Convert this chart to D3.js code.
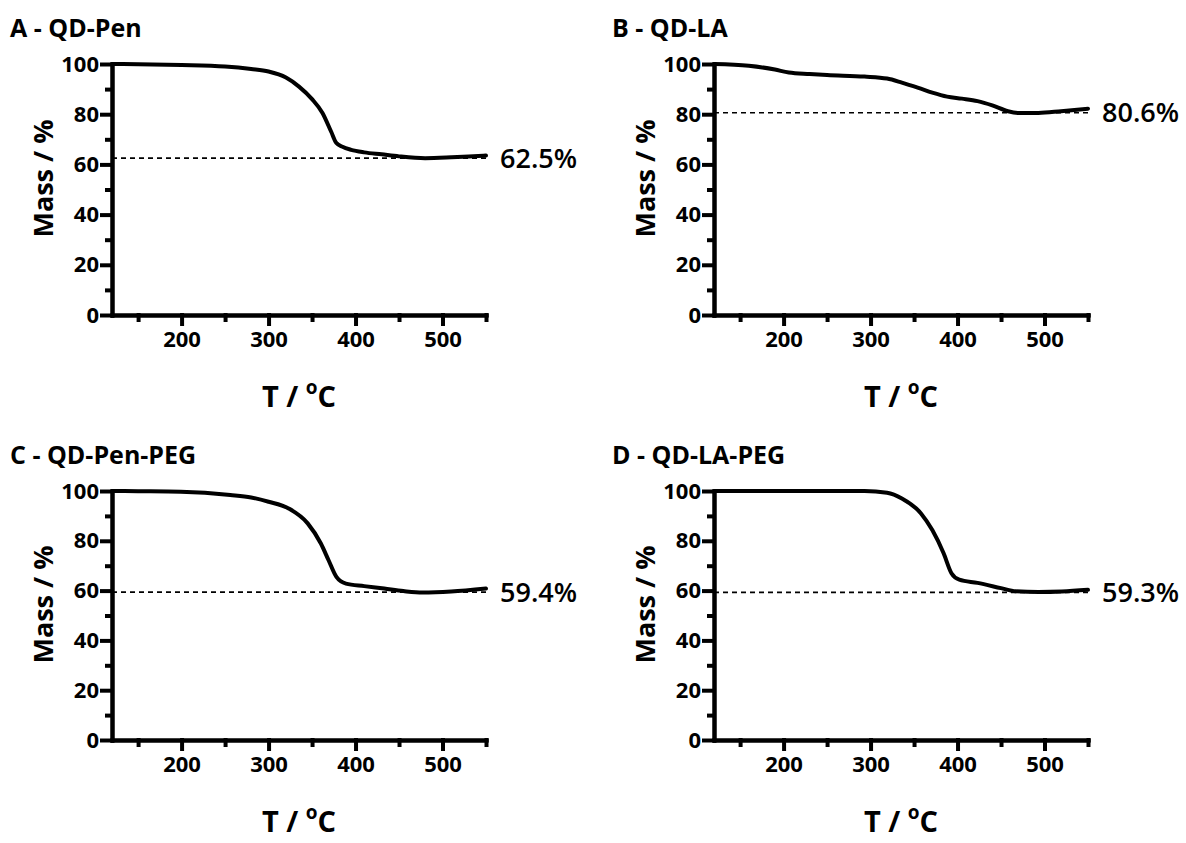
<!DOCTYPE html>
<html>
<head>
<meta charset="utf-8">
<script src="https://cdn.jsdelivr.net/npm/d3@7"></script>
<style>
  body { margin: 0; background: #fff; }
  text { font-family: 'Open Sans', Lato, sans-serif; font-weight: bold; fill: #000; }
</style>
</head>
<body>
<svg id="canvas"></svg>
<script>
const panelTitles = ['A - QD-Pen', 'B - QD-LA', 'C - QD-Pen-PEG', 'D - QD-LA-PEG'];
const residues = [62.5, 80.6, 59.4, 59.3];

// temperature (°C) and mass (%)
const tempA = [120, 150, 200, 250, 280, 300, 320, 335, 350, 362, 372, 378, 385, 395, 410, 430, 450, 480, 510, 530, 550];
const massA = [100, 99.9, 99.6, 99.0, 98.0, 97.0, 94.6, 91.0, 86.0, 80.5, 73.0, 68.5, 67.0, 65.8, 64.8, 64.0, 63.2, 62.5, 62.8, 63.1, 63.5];

const tempB = [120, 160, 190, 206, 230, 250, 293, 319, 336, 355, 371, 388, 405, 423, 440, 458, 471, 493, 519, 550];
const massB = [100, 99.3, 97.8, 96.6, 96.0, 95.6, 95.0, 94.2, 92.6, 90.5, 88.6, 87.0, 86.2, 85.2, 83.5, 81.2, 80.5, 80.5, 81.2, 82.2];

const tempC = [120, 150, 199, 256, 280, 300, 323, 345, 360, 369, 378, 389, 410, 433, 455, 477, 510, 550];
const massC = [100, 99.9, 99.7, 98.4, 97.4, 95.7, 93.0, 87.0, 79.0, 72.2, 65.5, 62.8, 61.8, 60.8, 59.8, 59.2, 59.6, 60.8];

const tempD = [120, 200, 293, 319, 336, 358, 371, 384, 393, 402, 423, 450, 467, 493, 520, 550];
const massD = [100, 100, 100, 99.3, 97.0, 91.0, 84.3, 75.0, 67.0, 64.4, 63.1, 61.0, 59.7, 59.4, 59.6, 60.3];

const xMajorTicks = [200, 300, 400, 500];
const xMinorTicks = [150, 250, 350, 450, 550];
const yMajorTicks = [0, 20, 40, 60, 80, 100];
const yMinorTicks = [10, 30, 50, 70, 90];

const width = 1186;
const height = 843;

// plot frames in pixels: left, right, top (100 %), bottom (0 %)
const frames = [
    { left: 112, right: 486, top: 64, bottom: 315 },
    { left: 714, right: 1088, top: 64, bottom: 315 },
    { left: 112, right: 486, top: 491, bottom: 740 },
    { left: 714, right: 1088, top: 491, bottom: 740 }
];

const series = [
    d3.zip(tempA, massA),
    d3.zip(tempB, massB),
    d3.zip(tempC, massC),
    d3.zip(tempD, massD)
];

const svg = d3.select('#canvas')
    .attr('width', width)
    .attr('height', height);

const drawPanel = (i) => {
    const f = frames[i];
    const g = svg.append('g');

    const xScale = d3.scaleLinear().domain([120, 550]).range([f.left, f.right]);
    const yScale = d3.scaleLinear().domain([0, 100]).range([f.bottom, f.top]);

    // y axis: major with labels, minor without
    g.append('g')
        .attr('transform', 'translate(' + f.left + ',0)')
        .call(d3.axisLeft(yScale).tickValues(yMajorTicks).tickSize(10).tickSizeOuter(0).tickPadding(3));
    g.append('g')
        .attr('transform', 'translate(' + f.left + ',0)')
        .call(d3.axisLeft(yScale).tickValues(yMinorTicks).tickSize(5).tickSizeOuter(0).tickFormat(''));

    // x axis
    g.append('g')
        .attr('transform', 'translate(0,' + f.bottom + ')')
        .call(d3.axisBottom(xScale).tickValues(xMajorTicks).tickSize(9).tickSizeOuter(0).tickPadding(7));
    g.append('g')
        .attr('transform', 'translate(0,' + f.bottom + ')')
        .call(d3.axisBottom(xScale).tickValues(xMinorTicks).tickSize(5).tickSizeOuter(0).tickFormat(''));

    g.selectAll('.domain, .tick line')
        .attr('stroke', '#000')
        .attr('stroke-width', 4)
        .attr('stroke-linecap', 'square');
    g.selectAll('.tick text')
        .style('font-size', '22px');

    // residual mass reference line
    g.append('line')
        .attr('x1', xScale(120))
        .attr('x2', xScale(550))
        .attr('y1', yScale(residues[i]))
        .attr('y2', yScale(residues[i]))
        .attr('stroke', '#000')
        .attr('stroke-width', 1.6)
        .attr('stroke-dasharray', '5,4');

    // TGA trace
    const line = d3.line()
        .x(d => xScale(d[0]))
        .y(d => yScale(d[1]))
        .curve(d3.curveMonotoneX);
    g.append('path')
        .datum(series[i])
        .attr('d', line)
        .attr('fill', 'none')
        .attr('stroke', '#000')
        .attr('stroke-width', 4)
        .attr('stroke-linejoin', 'round')
        .attr('stroke-linecap', 'round');

    g.append('text')
        .attr('x', xScale(550) + 14)
        .attr('y', yScale(residues[i]))
        .attr('dy', '0.36em')
        .style('font-size', '27px')
        .style('font-weight', 600)
        .text(residues[i] + '%');

    // titles and axis labels
    g.append('text')
        .attr('x', f.left - 102)
        .attr('y', f.top - 27)
        .style('font-size', '25px')
        .text(panelTitles[i]);

    g.append('text')
        .attr('transform', 'translate(' + (f.left - 59) + ',' + ((f.top + f.bottom) / 2 - 11) + ') rotate(-90)')
        .attr('text-anchor', 'middle')
        .style('font-size', '27px')
        .text('Mass / %');

    const xLabel = g.append('text')
        .attr('x', (f.left + f.right) / 2)
        .attr('y', f.bottom + 92)
        .attr('text-anchor', 'middle')
        .style('font-size', '29px');
    xLabel.append('tspan').text('T / ');
    xLabel.append('tspan').attr('dy', -13).style('font-size', '19px').text('o');
    xLabel.append('tspan').attr('dy', 13).text('C');
}

panelTitles.forEach((t, i) => drawPanel(i));
</script>
</body>
</html>
